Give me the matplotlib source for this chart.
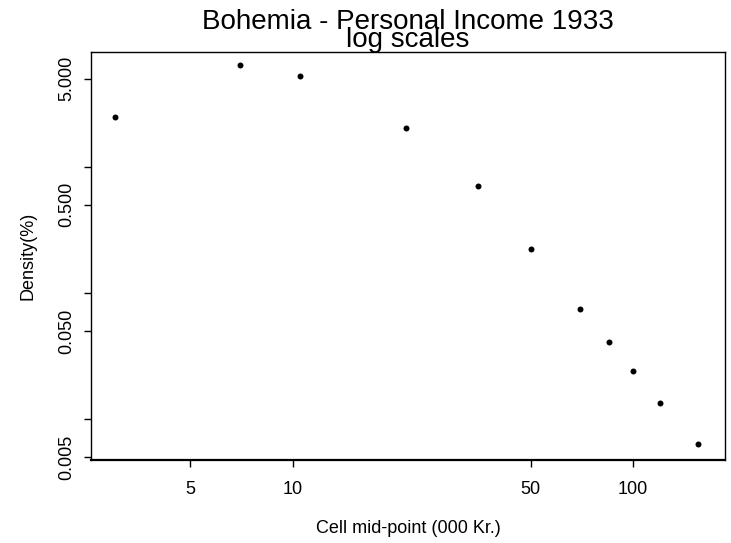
import numpy as np
import matplotlib
matplotlib.use("Agg")
import matplotlib.pyplot as plt

# cell mid-points (000 Kr.) and density (%)
midpoint = [3, 7, 10.5, 21.5, 35, 50, 70, 85, 100, 120, 155]
density = [2.47, 6.38, 5.22, 2.05, 0.711, 0.225, 0.075, 0.041, 0.0241, 0.0134, 0.00635]

xticks = [5, 10, 50, 100]
yticks = [0.005, 0.01, 0.05, 0.1, 0.5, 1, 5]
ylabels = ["0.005", "", "0.050", "", "0.500", "", "5.000"]

plt.rcParams['font.family'] = ['Liberation Sans', 'DejaVu Sans']

fig = plt.figure(figsize=(7.31, 5.43), dpi=100)
ax = fig.add_axes([0.1245, 0.1529, 0.8673, 0.7513])

ax.plot(midpoint, density, 'o', color='black', markersize=4.3, markeredgewidth=0)
ax.set_xscale('log')
ax.set_yscale('log')
ax.set_xlim(2.55, 186.5)
ax.set_ylim(0.00473, 8.15)

ax.set_xticks(xticks)
ax.set_xticklabels([str(t) for t in xticks])
ax.xaxis.set_minor_locator(matplotlib.ticker.NullLocator())
ax.set_yticks(yticks)
ax.set_yticklabels(ylabels, rotation=90, va='center')
ax.yaxis.set_minor_locator(matplotlib.ticker.NullLocator())

ax.tick_params(axis='both', direction='out', length=5, width=1, labelsize=13, color='black')
ax.tick_params(axis='x', pad=10)
ax.tick_params(axis='y', pad=6)

for s in ax.spines.values():
    s.set_linewidth(1)
ax.spines['bottom'].set_linewidth(1.6)

ax.set_xlabel("Cell mid-point (000 Kr.)", fontsize=13, labelpad=16)
ax.set_ylabel("Density(%)", fontsize=13, labelpad=16)

cx = (0.1245 + 0.1245 + 0.8673) / 2
fig.text(cx, 1 - 22 / 543, "Bohemia - Personal Income 1933", ha='center', va='center', fontsize=20)
fig.text(cx, 1 - 40 / 543, "log scales", ha='center', va='center', fontsize=20)

fig.savefig("out.png", dpi=100)
